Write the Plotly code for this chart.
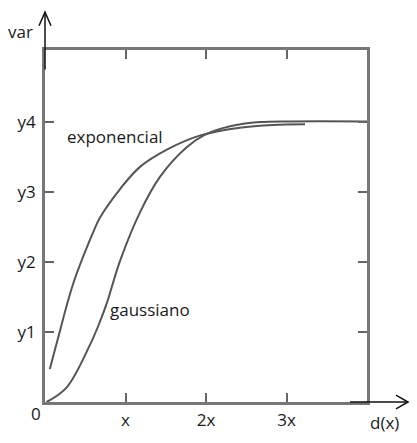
import plotly.graph_objects as go

# data
exp_x = [0.06, 0.15, 0.35, 0.60, 0.68, 0.93, 1.18, 1.52, 1.93, 2.42, 2.83, 3.23]
exp_y = [0.47, 0.86, 1.69, 2.43, 2.63, 3.04, 3.36, 3.61, 3.81, 3.92, 3.96, 3.97]
gau_x = [0.02, 0.27, 0.56, 0.68, 0.77, 0.93, 1.18, 1.43, 1.76, 1.99, 2.30, 2.67, 3.04, 4.00]
gau_y = [0.00, 0.21, 0.82, 1.14, 1.42, 2.01, 2.71, 3.22, 3.64, 3.82, 3.94, 4.00, 4.01, 4.01]
x_ticks = [1, 2, 3]
x_labels = ["x", "2x", "3x"]
y_ticks = [1, 2, 3, 4]
y_labels = ["y1", "y2", "y3", "y4"]

W, H = 417, 443
L, R, T, B = 45, 367, 50, 412

def px(x):
    return (x - L) / (R - L)

def py(y):
    return (B - y) / (B - T)

FONT = "Open Sans"
FS = 17
CURVE = "#555555"
fig = go.Figure()
fig.add_trace(go.Scatter(x=exp_x, y=exp_y, mode="lines", line=dict(color=CURVE, width=2, shape="spline"), showlegend=False, hoverinfo="skip"))
fig.add_trace(go.Scatter(x=gau_x, y=gau_y, mode="lines", line=dict(color=CURVE, width=2, shape="spline"), showlegend=False, hoverinfo="skip"))

axis_common = dict(showgrid=False, zeroline=False, showline=True, linecolor="#777777", linewidth=2.5,
                   mirror="allticks", ticks="inside", ticklen=9, tickwidth=2, tickcolor="#666666",
                   tickfont=dict(family=FONT, size=FS, color="#1a1a1a"))
fig.update_xaxes(range=[0, 4], tickvals=x_ticks, ticktext=x_labels, ticklabelstandoff=1, **axis_common)
fig.update_yaxes(range=[0, 5.03], tickvals=y_ticks, ticktext=y_labels, ticklabelstandoff=3, **axis_common)

shapes = []
blk = dict(color="#111111", width=1.5)
# y arrow
shapes.append(dict(type="line", xref="paper", yref="paper", x0=px(45), x1=px(45), y0=py(70), y1=py(11), line=blk))
shapes.append(dict(type="path", xref="paper", yref="paper",
                   path=f"M {px(39)},{py(25)} L {px(45)},{py(11)} L {px(51)},{py(25)}", line=blk))
# x arrow
shapes.append(dict(type="line", xref="paper", yref="paper", x0=px(350), x1=px(408), y0=py(412), y1=py(412), line=blk))
shapes.append(dict(type="path", xref="paper", yref="paper",
                   path=f"M {px(396)},{py(405)} L {px(408)},{py(412)} L {px(396)},{py(419)}", line=blk))

txt = dict(family=FONT, size=FS, color="#1a1a1a")
ann = [
    dict(text="var", x=px(20), y=py(31)),
    dict(text="d(x)", x=px(384), y=py(433)),
    dict(text="0", x=px(36), y=py(424)),
    dict(text="exponencial", x=px(115), y=py(139)),
    dict(text="gaussiano", x=px(150), y=py(317)),
]
annotations = [dict(a, xref="paper", yref="paper", showarrow=False, font=txt, xanchor="center", yanchor="middle") for a in ann]

fig.update_layout(width=W, height=H, margin=dict(l=L, r=W - R, t=T, b=H - B, pad=0),
                  plot_bgcolor="white", paper_bgcolor="white", shapes=shapes, annotations=annotations)
fig.write_html("out.html")
